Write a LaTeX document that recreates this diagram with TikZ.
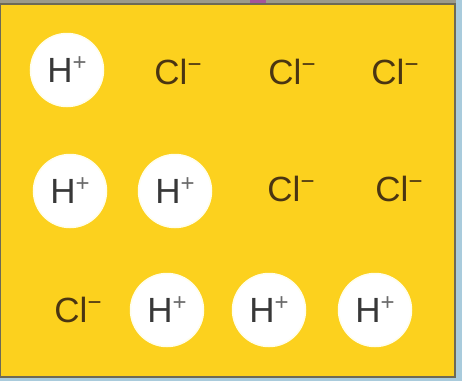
\documentclass[tikz,border=0pt]{standalone}
\usepackage{fontspec}
\setmainfont{Liberation Sans}
\definecolor{boxyellow}{HTML}{FCD11E}
\definecolor{edgegray}{HTML}{6E6A55}
\definecolor{skyblue}{HTML}{A9CBDC}
\definecolor{clbrown}{HTML}{4A3512}
\definecolor{hgray}{HTML}{383838}
\definecolor{plusgray}{HTML}{6A6A6A}
\definecolor{topgray}{HTML}{9C9A8A}
\definecolor{purpleblob}{HTML}{A4559C}
\newcommand{\ionsup}[1]{\raisebox{0.34em}{\fontsize{24}{24}\selectfont #1}}
\begin{document}
\begin{tikzpicture}[x=1pt,y=-1pt,
  hion/.style={circle,fill=white,draw=white!92!yellow,line width=1.5pt,minimum size=73pt,inner sep=0pt,
    text=hgray,font=\fontsize{35}{35}\selectfont},
  clion/.style={inner sep=0pt,text=clbrown,font=\fontsize{35}{35}\selectfont}]
\useasboundingbox (0,0) rectangle (462,381);
\fill[skyblue] (0,0) rectangle (462,381);
\fill[topgray] (0,0) rectangle (456,4);
\fill[purpleblob] (250,0) rectangle (266,4);
\draw[edgegray,line width=1.6pt,fill=boxyellow] (0,4) rectangle (455,377);
% row 1
\node[hion] (h1) at (67,70) {H\ionsup{\textcolor{plusgray}{+}}};
\node[clion] (c1) at (178,72) {Cl\ionsup{−}};
\node[clion] (c2) at (292,72) {Cl\ionsup{−}};
\node[clion] (c3) at (395,72) {Cl\ionsup{−}};
% row 2
\node[hion] (h2) at (70,191) {H\ionsup{\textcolor{plusgray}{+}}};
\node[hion] (h3) at (175,191) {H\ionsup{\textcolor{plusgray}{+}}};
\node[clion] (c4) at (291,189) {Cl\ionsup{−}};
\node[clion] (c5) at (399,189) {Cl\ionsup{−}};
% row 3
\node[clion] (c6) at (78,310) {Cl\ionsup{−}};
\node[hion] (h4) at (167,310) {H\ionsup{\textcolor{plusgray}{+}}};
\node[hion] (h5) at (269,310) {H\ionsup{\textcolor{plusgray}{+}}};
\node[hion] (h6) at (375,310) {H\ionsup{\textcolor{plusgray}{+}}};
\end{tikzpicture}
\end{document}
